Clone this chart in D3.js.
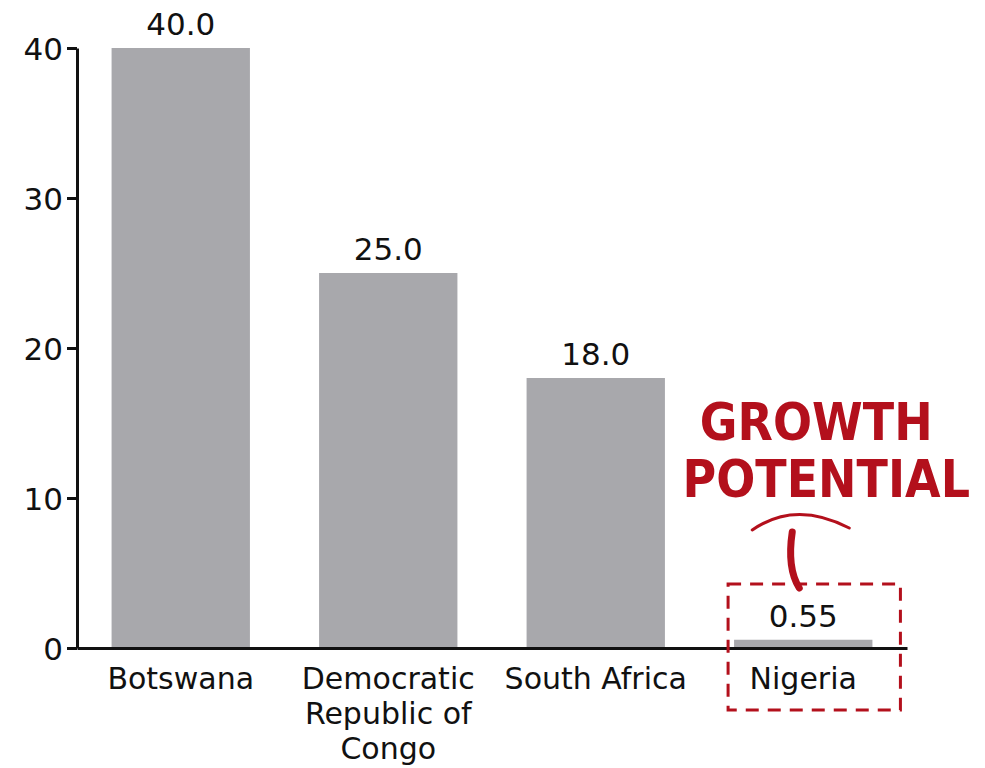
<!DOCTYPE html>
<html><head><meta charset="utf-8">
<script src="https://cdn.jsdelivr.net/npm/d3@7/dist/d3.min.js"></script>
<style>body{margin:0;background:#fff}svg{display:block}</style>
</head><body>
<svg id="c" width="985" height="768"></svg>
<script>
const categories = ["Botswana", "Democratic Republic of Congo", "South Africa", "Nigeria"];
const categoryLines = [["Botswana"], ["Democratic", "Republic of", "Congo"], ["South Africa"], ["Nigeria"]];
const values = [40.0, 25.0, 18.0, 0.55];
const valueLabels = ["40.0", "25.0", "18.0", "0.55"];
const yTicks = [0, 10, 20, 30, 40];
const calloutLines = ["GROWTH", "POTENTIAL"];

const svg = d3.select("#c");
const font = "'DejaVu Sans', Verdana, sans-serif";
const red = "#b3101c";
const x = d3.scaleBand().domain(categories).range([77, 907]).paddingInner(1/3).paddingOuter(1/6);
const y = d3.scaleLinear().domain([0, 40]).range([648, 48]);

// bars
svg.selectAll("rect.bar").data(values).enter().append("rect")
  .attr("class", "bar")
  .attr("x", (d, i) => x(categories[i]))
  .attr("width", x.bandwidth())
  .attr("y", d => y(d))
  .attr("height", d => y(0) - y(d))
  .attr("fill", "#a8a8ac");

// value labels
svg.selectAll("text.val").data(values).enter().append("text")
  .attr("class", "val")
  .attr("x", (d, i) => x(categories[i]) + x.bandwidth() / 2)
  .attr("y", d => y(d) - 13)
  .attr("text-anchor", "middle")
  .attr("font-family", font).attr("font-size", 31).attr("fill", "#111")
  .text((d, i) => valueLabels[i]);

// y axis
const yAxis = svg.append("g").attr("transform", "translate(77,0)")
  .call(d3.axisLeft(y).tickValues(yTicks).tickSize(10).tickSizeOuter(0).tickPadding(4));
yAxis.select(".domain").attr("stroke", "#111").attr("stroke-width", 3);
yAxis.selectAll(".tick line").attr("stroke", "#111").attr("stroke-width", 3);
yAxis.selectAll(".tick text").attr("font-family", font).attr("font-size", 31).attr("fill", "#111").attr("dy", "0.36em");

// x axis
const xAxis = svg.append("g").attr("transform", "translate(0,648)")
  .call(d3.axisBottom(x).tickSize(0).tickSizeOuter(0).tickFormat(""));
xAxis.select(".domain").attr("stroke", "#111").attr("stroke-width", 3);
categoryLines.forEach((lines, i) => {
  const cx = x(categories[i]) + x.bandwidth() / 2;
  const t = svg.append("text")
    .attr("x", cx).attr("y", 689)
    .attr("text-anchor", "middle")
    .attr("font-family", font).attr("font-size", 30).attr("fill", "#111");
  lines.forEach((l, j) => t.append("tspan")
    .attr("x", cx).attr("dy", j === 0 ? 0 : 35).text(l));
});

// callout
const nx = x("Nigeria") + x.bandwidth() / 2;
svg.append("text").attr("transform", `translate(${nx + 13},440) scale(1,1.12)`).attr("text-anchor", "middle")
  .attr("font-family", font).attr("font-weight", "bold").attr("font-size", 46).attr("fill", red)
  .text(calloutLines[0]);
svg.append("text").attr("transform", `translate(${nx + 23},497) scale(1,1.12)`).attr("text-anchor", "middle")
  .attr("font-family", font).attr("font-weight", "bold").attr("font-size", 46).attr("fill", red)
  .text(calloutLines[1]);

// dashed box
svg.append("rect").attr("x", x("Nigeria") - 6).attr("y", 584).attr("width", x.bandwidth() + 34).attr("height", 126)
  .attr("fill", "none").attr("stroke", red).attr("stroke-width", 3).attr("stroke-dasharray", "13 9");

// hand-drawn arrow
svg.append("path").attr("d", `M${nx - 4},588 C${nx - 14},572 ${nx - 14},552 ${nx - 11},532`)
  .attr("fill", "none").attr("stroke", red).attr("stroke-width", 7).attr("stroke-linecap", "round");
svg.append("path").attr("d", `M${nx - 51},530 Q${nx - 8},500 ${nx + 46},528`)
  .attr("fill", "none").attr("stroke", red).attr("stroke-width", 3).attr("stroke-linecap", "round");
</script>
</body></html>
